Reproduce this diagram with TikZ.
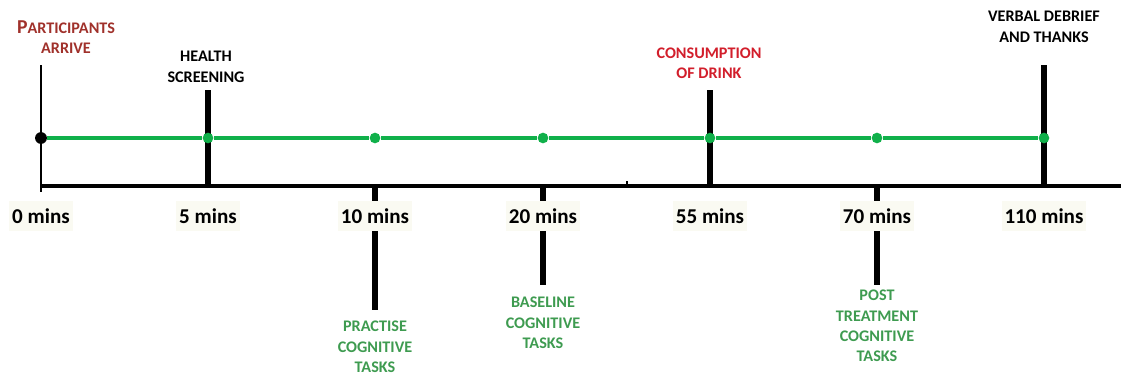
\documentclass[tikz,border=0pt]{standalone}
\usepackage{fontspec}
\setmainfont{Carlito}
\usetikzlibrary{positioning}
\definecolor{ArriveRed}{HTML}{A0312B}
\definecolor{DrinkRed}{HTML}{D21E2B}
\definecolor{TaskGreen}{HTML}{3E9B50}
\definecolor{LineGreen}{HTML}{10B04A}
\definecolor{TimeBox}{HTML}{FAFAF2}

\tikzset{
  bar/.style={line width=4.4pt},
  dot/.style={circle, fill=LineGreen, inner sep=0pt, minimum size=7.6pt},
  timelabel/.style={fill=TimeBox, inner xsep=2pt, minimum height=21pt,
    font=\fontsize{15}{18}\selectfont\bfseries},
  toplabel/.style={align=center, font=\fontsize{11.5}{14.5}\selectfont\bfseries},
  tasklabel/.style={toplabel, text=TaskGreen}
}

\begin{document}
\begin{tikzpicture}[x=0.025cm, y=-0.025cm]
    \useasboundingbox (0,0) rectangle (1121,376);

    % ends of the bars
    \coordinate (top0) at (41,65);
    \coordinate (foot0) at (41,192);
    \coordinate (top5) at (208,90);
    \coordinate (top55) at (710,90);
    \coordinate (top110) at (1044,65);
    \coordinate (low10) at (375,310);
    \coordinate (low20) at (543,285);
    \coordinate (low70) at (877,285);
    \coordinate (axisL) at (41,186);
    \coordinate (axisR) at (1121,186);
    \coordinate (ax5) at (208,186);
    \coordinate (ax10) at (375,186);
    \coordinate (ax20) at (543,186);
    \coordinate (ax55) at (710,186);
    \coordinate (ax70) at (877,186);
    \coordinate (ax110) at (1044,186);
    \coordinate (nickTop) at (627,181);
    \coordinate (nickFoot) at (627,186);

    \draw[line width=2pt] (top0) -- (foot0);
    \draw[bar] (top5) -- (ax5);
    \draw[bar] (top55) -- (ax55);
    \draw[bar] (top110) -- (ax110);
    \draw[bar] (ax10) -- (low10);
    \draw[bar] (ax20) -- (low20);
    \draw[bar] (ax70) -- (low70);
    \draw[line width=2.4pt] (axisL) -- (axisR);
    \draw[line width=1pt] (nickTop) -- (nickFoot);

    % green track and its points
    \node[circle, fill=black, inner sep=0pt, minimum size=8.4pt] (m0) at (41,138) {};
    \node[dot] (m5) at (208,138) {};
    \node[dot] (m10) at (375,138) {};
    \node[dot] (m20) at (543,138) {};
    \node[dot] (m55) at (710,138) {};
    \node[dot] (m70) at (877,138) {};
    \node[dot] (m110) at (1044,138) {};
    \draw[LineGreen, line width=2.3pt] (m0) -- (m5) -- (m10) -- (m20) -- (m55) -- (m70) -- (m110);

    % times
    \node[timelabel] (t0) at (41,216) {0 mins};
    \node[timelabel] (t5) at (208,216) {5 mins};
    \node[timelabel] (t10) at (375,216) {10 mins};
    \node[timelabel] (t20) at (543,216) {20 mins};
    \node[timelabel] (t55) at (710,216) {55 mins};
    \node[timelabel] (t70) at (877,216) {70 mins};
    \node[timelabel] (t110) at (1044,216) {110 mins};

    % events
    \node[toplabel, text=ArriveRed] (arrive) at (66,37)
      {{\fontsize{14}{14.5}\selectfont P}ARTICIPANTS\\ARRIVE};
    \node[toplabel] (health) at (206,67) {HEALTH\\SCREENING};
    \node[toplabel, text=DrinkRed] (drink) at (709,63) {CONSUMPTION\\OF DRINK};
    \node[toplabel] (debrief) at (1044,27) {VERBAL DEBRIEF\\AND THANKS};
    \node[tasklabel] (practise) at (375,347) {PRACTISE\\COGNITIVE\\TASKS};
    \node[tasklabel] (baseline) at (543,323) {BASELINE\\COGNITIVE\\TASKS};
    \node[tasklabel] (post) at (877,326) {POST\\TREATMENT\\COGNITIVE\\TASKS};
  \end{tikzpicture}
\end{document}
